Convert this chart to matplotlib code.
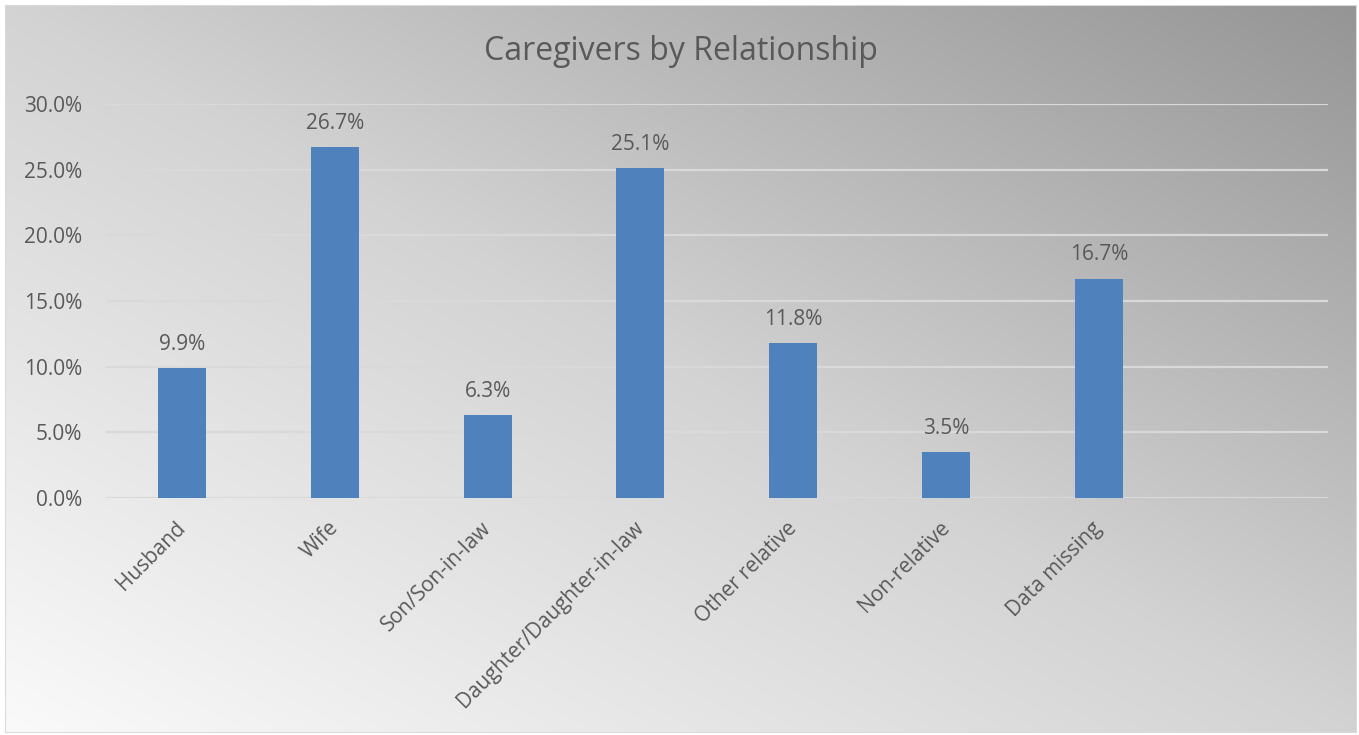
import numpy as np
import matplotlib
matplotlib.use("Agg")
import matplotlib.pyplot as plt
import matplotlib.transforms as mtransforms
from matplotlib.patches import Rectangle

categories = ["Husband", "Wife", "Son/Son-in-law", "Daughter/Daughter-in-law",
              "Other relative", "Non-relative", "Data missing"]
shares = [9.9, 26.7, 6.3, 25.1, 11.8, 3.5, 16.7]
y_ticks = [0, 5, 10, 15, 20, 25, 30]

W, H, DPI = 1359, 735, 100
plt.rcParams["font.family"] = ["Open Sans", "DejaVu Sans"]
TEXT = "#595959"
BAR = "#4f81bd"

fig = plt.figure(figsize=(W / DPI, H / DPI), dpi=DPI)
fig.patch.set_facecolor("white")

# diagonal gradient of the chart frame (light bottom-left, darker top-right)
bg = fig.add_axes([5 / W, 2 / H, 1352 / W, 728 / H], zorder=0)
u = np.linspace(0, 1, 500)[None, :]
v = np.linspace(1, 0, 300)[:, None]
t = (u + v) / 2
g = np.interp(t, [0.0, 0.5, 1.0], [250, 211, 149]) / 255.0
bg.imshow(np.dstack([g, g, g]), aspect="auto", extent=[0, 1, 0, 1],
          interpolation="bilinear")
bg.add_patch(Rectangle((0, 0), 1, 1, transform=bg.transAxes, fill=False,
                       edgecolor="#d9d9d9", linewidth=1.5))
bg.set_axis_off()

left, right = 105.6, 1328
y0, y30 = 498, 104
ax = fig.add_axes([left / W, (H - y0) / H, (right - left) / W, (y0 - y30) / H],
                  zorder=1)
ax.patch.set_alpha(0)

x = np.arange(len(categories))
bars = ax.bar(x, shares, width=0.315, color=BAR, zorder=3)
for xi, val in zip(x, shares):
    ax.annotate(f"{val:.1f}%", (xi, val), xytext=(0, 9.5), textcoords="offset points",
                ha="center", va="bottom", fontsize=15, color=TEXT)

ax.set_xlim(-0.5, 7.5)
ax.set_ylim(0, 30)
ax.set_yticks(y_ticks)
ax.set_yticklabels([f"{t:.1f}%" for t in y_ticks], fontsize=15, color=TEXT)
ax.yaxis.grid(True, color="#d9d9d9", linewidth=1.6, zorder=1)
ax.set_axisbelow(True)
ax.tick_params(axis="y", length=0, pad=17)
ax.tick_params(axis="x", length=0, pad=14)
ax.set_xticks(x)
ax.set_xticklabels(categories, rotation=45, ha="right", rotation_mode="anchor",
                   fontsize=15, color=TEXT)
shift = mtransforms.ScaledTranslation(-5 / 72, 0, fig.dpi_scale_trans)
for lbl in ax.get_xticklabels():
    lbl.set_transform(lbl.get_transform() + shift)
for s in ax.spines.values():
    s.set_visible(False)

fig.text(681 / W, 1 - 51 / H, "Caregivers by Relationship", ha="center",
         va="center", fontsize=23, color=TEXT)

fig.savefig("out.png", dpi=DPI)
